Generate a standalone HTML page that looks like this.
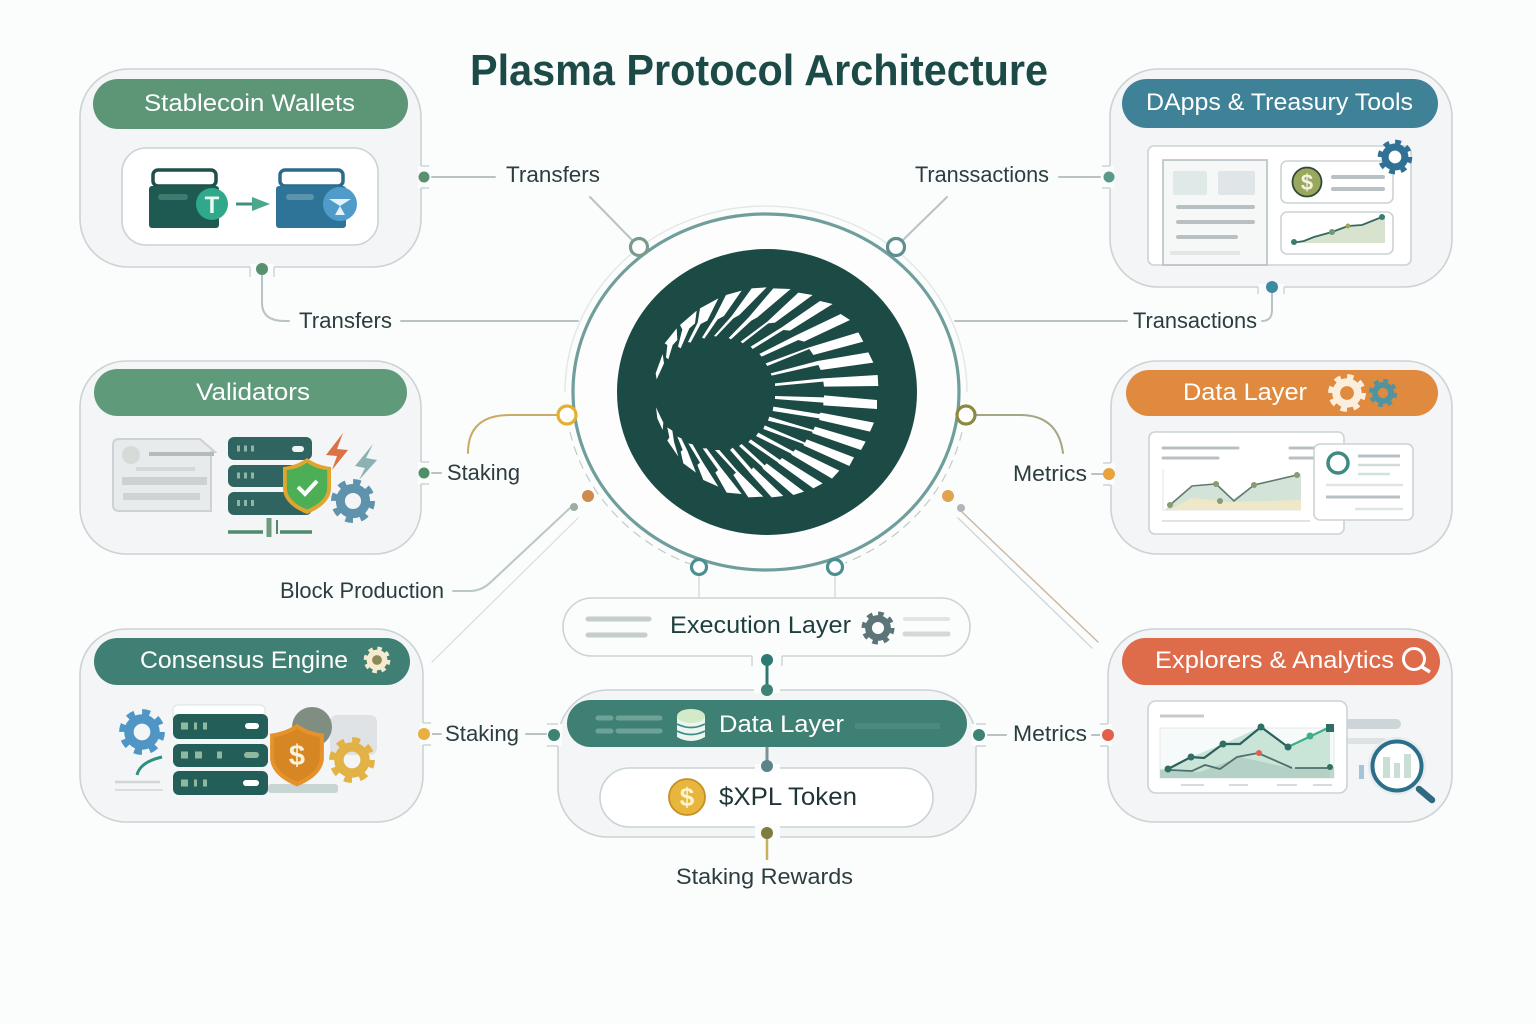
<!DOCTYPE html>
<html><head><meta charset="utf-8"><style>
html,body{margin:0;padding:0;background:#fbfcfc}
svg{display:block}
text{font-family:"Liberation Sans",sans-serif}
.l{font-size:22px;fill:#2c3d40}
.h{font-size:24px;fill:#fff}
.c{fill:#f3f5f6;stroke:#ccd3d5;stroke-width:1.6}
.w{fill:#fff;stroke:#ccd3d5;stroke-width:1.6}
.g{fill:none;stroke:#b9c3c5;stroke-width:2;stroke-linecap:round}
.b{stroke:#b9c0c4;stroke-width:4;stroke-linecap:round;fill:none}
.n{fill:#fff;stroke-width:3.2}
.t{fill:none;stroke:#ccd3d5;stroke-width:1.4}
</style></head><body>
<svg width="1536" height="1024" viewBox="0 0 1536 1024" xmlns="http://www.w3.org/2000/svg">
<defs>
<g id="gear"><circle r="9" fill="none" stroke="currentColor" stroke-width="6.5"/><circle r="13.5" fill="none" stroke="currentColor" stroke-width="4.5" stroke-dasharray="5.3 5.3"/></g>
<path id="shield" d="M0-28C8-22 16-20 24-19V2C24 16 10 24 0 28C-10 24-24 16-24 2V-19C-16-20-8-22 0-28Z"/>
</defs>
<rect width="1536" height="1024" fill="#fbfcfc"/>

<text x="470" y="85" font-size="44" font-weight="bold" fill="#1b4a47" textLength="578" lengthAdjust="spacingAndGlyphs">Plasma Protocol Architecture</text>

<!-- connectors -->
<g class="g" fill="none">
<path d="M432 177H495"/><path d="M590 197L632 240"/><path d="M1059 177H1100"/><path d="M947 197L903 240"/>
<path d="M262 272V303Q262 321 285 321H289"/><path d="M401 321H578"/><path d="M955 321H1127"/>
<path d="M1262 321Q1272 321 1272 310V292"/>
<path d="M432 473H441"/><path d="M1092 474H1103"/>
<path d="M468 453Q468 415 510 415H558" style="stroke:#c8ab66"/>
<path d="M1063 453Q1058 415 1020 415H975" style="stroke:#a5a58a"/>
<path d="M453 591H470Q482 591 492 581L570 508" style="stroke:#b9c7c8"/>
<path d="M432 662L578 518" style="stroke:#dcdcd0;stroke-width:1.2"/>
<path d="M962 512L1098 642" style="stroke:#c9b6a3;stroke-width:1.4"/>
<path d="M958 518L1092 648" style="stroke:#d2d7d8;stroke-width:1.4"/>
<path d="M699 576V598M835 576V598" style="stroke:#d4dadb;stroke-width:1.4"/>
<path d="M432 734H441"/><path d="M526 734H546"/><path d="M988 735H1006"/><path d="M1092 735H1100"/>
</g>

<!-- main circle -->
<path d="M565 392A201 186 0 0 1 967 392" fill="none" stroke="#e3e7e7" stroke-width="1.4"/>
<path d="M570 432A201 186 0 0 0 690 564" fill="none" stroke="#c3caca" stroke-width="1.2" stroke-dasharray="9 6"/>
<path d="M962 432A201 186 0 0 1 845 563" fill="none" stroke="#c3caca" stroke-width="1.2" stroke-dasharray="9 6"/>
<ellipse cx="766" cy="392" rx="193" ry="178" fill="#fdfdfd" stroke="#6f9e9c" stroke-width="3.2"/>
<ellipse cx="767" cy="392" rx="150" ry="143" fill="#1c4a45"/>
<!-- traced rays -->
<g transform="translate(650 280) scale(.33333)" fill="#fff">
<path d="M38 222L42 250L20 298L17 280Z"/>
<path d="M80 145L82 180L68 195L55 238L48 232L52 195L44 190Z"/>
<path d="M140 92L135 130L118 145L92 205L84 200L97 148L90 135Z"/>
<path d="M205 55L172 122L152 132L122 188L114 186L143 128L150 85Z"/>
<path d="M275 32L222 108L203 118L163 176L156 173L194 112L228 45Z"/>
<path d="M350 22L268 105L250 115L198 170L192 168L245 108L305 25Z"/>
<path d="M422 27L322 112L304 122L243 178L236 174L296 112L370 25Z"/>
<path d="M488 45L375 128L355 130L278 190L272 185L352 125L445 38Z"/>
<path d="M548 72L420 152L400 150L308 207L302 200L395 142L510 63Z"/>
<path d="M600 120L462 185L445 180L335 230L328 222L440 165L572 102Z"/>
<path d="M640 185L490 225L478 207L352 258L347 250L475 203L625 157Z"/>
<path d="M655 217L670 248L512 270L505 255L365 287L362 280L503 243Z"/>
<path d="M683 285L685 318L522 320L520 305L375 318L375 310L518 295Z"/>
</g>
<g transform="translate(730 400) scale(.33333)" fill="#fff">
<path d="M135-12L282-8L282-14L441 0L441 27L280 16L280 8L135-3Z"/>
<path d="M130 20L268 42L272 38L432 68L420 95L268 60L268 55L128 33Z"/>
<path d="M118 50L250 90L255 80L407 125L393 150L248 100L246 95L114 62Z"/>
<path d="M104 76L225 128L230 118L372 172L358 198L222 137L220 132L100 87Z"/>
<path d="M85 98L190 155L196 148L328 212L306 236L186 165L182 160L78 108Z"/>
<path d="M62 118L150 180L156 174L278 250L250 265L146 190L142 186L55 126Z"/>
<path d="M35 132L104 196L110 190L222 275L190 285L100 207L96 200L27 138Z"/>
<path d="M8 143L65 208L70 202L160 288L125 292L58 217L54 212L0 150Z"/>
</g>
<g transform="translate(650 400) scale(.33333)" fill="#fff">
<path d="M18 22L40 68L38 90L22 55Z"/>
<path d="M52 82L67 92L72 125L85 170L52 122L58 112Z"/>
<path d="M82 110L94 115L112 152L138 218L100 190L92 155L98 150Z"/>
<path d="M115 130L128 133L158 186L205 260L160 240L142 195L150 188Z"/>
<path d="M158 145L170 145L212 202L275 282L230 278L196 218L204 210Z"/>
<path d="M195 150L208 150L260 210L340 290L295 292L250 225L258 218Z"/>
</g>
<ellipse cx="715" cy="393" rx="58" ry="55" fill="#1c4a45"/>
<circle class="n" cx="639" cy="247" r="8.5" stroke="#7a9b8b"/>
<circle class="n" cx="896" cy="247" r="8.5" stroke="#5f8f90"/>
<circle class="n" cx="567" cy="415" r="9" stroke="#e3b02f"/>
<circle class="n" cx="966" cy="415" r="9" stroke="#8c8a40"/>
<circle class="n" cx="699" cy="567" r="7.500" stroke="#4c8f90"/>
<circle class="n" cx="835" cy="567" r="7.500" stroke="#4c8f90"/>
<circle cx="588" cy="496" r="6" fill="#cf8a4d"/><circle cx="574" cy="507" r="4" fill="#9fac9f"/>
<circle cx="948" cy="496" r="6" fill="#e0a350"/><circle cx="961" cy="508" r="4" fill="#aeb6ba"/>

<!-- Stablecoin Wallets -->
<rect class="c" x="80" y="69" width="341" height="198" rx="48"/>
<rect x="93" y="79" width="315" height="50" rx="25" fill="#5c9676"/>
<text class="h" x="144" y="111" textLength="211" lengthAdjust="spacingAndGlyphs">Stablecoin Wallets</text>
<rect class="w" x="122" y="148" width="256" height="97" rx="24"/>
<rect x="153" y="170" width="63" height="16" rx="5" fill="#fff" stroke="#1f4f49" stroke-width="3.5"/>
<rect x="149" y="186" width="70" height="42" rx="3" fill="#1f5a52"/>
<rect x="158" y="194" width="30" height="6" rx="3" fill="#3f7a6e"/>
<circle cx="212" cy="204" r="16" fill="#2fa98a"/>
<text x="212" y="213" font-size="24" font-weight="bold" fill="#e8f8f2" text-anchor="middle">T</text>
<path d="M236 204H254" stroke="#3f8f80" stroke-width="3"/><path d="M252 197L270 204L252 211Z" fill="#4aa98c"/>
<rect x="280" y="170" width="63" height="16" rx="5" fill="#fff" stroke="#2c6a8c" stroke-width="3.500"/>
<rect x="276" y="186" width="70" height="42" rx="3" fill="#2e7499"/>
<rect x="286" y="194" width="28" height="6" rx="3" fill="#5a94ad"/>
<circle cx="340" cy="204" r="17" fill="#4f9ccb"/>
<path d="M329 199H351L340 206ZM340 206L345 215H335Z" fill="#e6f2f8"/>

<!-- DApps -->
<rect class="c" x="1110" y="69" width="342" height="218" rx="48"/>
<rect x="1122" y="79" width="316" height="49" rx="24.500" fill="#3f8196"/>
<text class="h" x="1146" y="110" textLength="267" lengthAdjust="spacingAndGlyphs">DApps &amp; Treasury Tools</text>
<rect class="w" x="1148" y="146" width="263" height="119" rx="6"/>
<rect x="1163" y="160" width="104" height="105" fill="#f6f8f8" stroke="#b8c0c3" stroke-width="1.6"/>
<rect x="1173" y="171" width="34" height="24" rx="2" fill="#dfe9e8"/><rect x="1218" y="171" width="37" height="24" rx="2" fill="#e0e6e7"/>
<path class="b" d="M1178 207H1253M1178 222H1253M1178 237H1236"/>
<path d="M1170 253H1240" stroke="#e3e6e7" stroke-width="4"/>
<rect class="w" x="1281" y="161" width="112" height="42" rx="6"/>
<circle cx="1307" cy="182" r="14.500" fill="#9aa85e" stroke="#2f4a3a" stroke-width="1.8"/>
<text x="1307" y="190" font-size="22" font-weight="bold" fill="#f3f4e4" text-anchor="middle">$</text>
<path class="b" d="M1333 177H1383M1333 189H1383"/>
<rect class="w" x="1281" y="212" width="112" height="42" rx="6"/>
<path d="M1292 243L1304 241L1314 237L1332 232L1348 226L1362 225L1385 217V243Z" fill="#d8e3cf"/>
<path d="M1292 243L1304 241L1314 237L1332 232L1348 226L1362 225L1382 217" fill="none" stroke="#33695f" stroke-width="1.8"/>
<circle cx="1294" cy="242" r="3" fill="#33806f"/><circle cx="1332" cy="232" r="3" fill="#6f9a7a"/><circle cx="1348" cy="226" r="2.500" fill="#9aa85e"/><circle cx="1382" cy="217" r="3" fill="#33806f"/>
<use href="#gear" transform="translate(1395 157) scale(1.1)" style="color:#2f7296"/>

<!-- Validators -->
<rect class="c" x="80" y="361" width="341" height="193" rx="46"/>
<rect x="94" y="369" width="313" height="47" rx="23.500" fill="#5f9a7a"/>
<text class="h" x="196" y="400" textLength="114" lengthAdjust="spacingAndGlyphs">Validators</text>
<path d="M119 439H200L215 452V452H211V511H119Q113 511 113 505V445Q113 439 119 439Z" fill="#e8ebec" stroke="#cdd2d5" stroke-width="2"/>
<circle cx="131" cy="455" r="9" fill="#d6dbd8"/>
<path d="M149 454H214" stroke="#b5babf" stroke-width="4"/><path d="M136 469H195" stroke="#d5d8da" stroke-width="4"/>
<rect x="122" y="477" width="85" height="8" fill="#cdd1d4"/><rect x="123" y="493" width="77" height="7" fill="#d0d3d6"/>
<rect x="228" y="437" width="84" height="23" rx="6" fill="#2f6460"/><rect x="228" y="465" width="84" height="22" rx="6" fill="#2f6460"/><rect x="228" y="492" width="84" height="23" rx="6" fill="#2f6460"/>
<path d="M237 448.500h3M244 448.500h3M251 448.500h3M237 475.500h3M244 475.500h3M251 475.500h3M237 503h3M244 503h3M251 503h3" stroke="#8fb5a5" stroke-width="6"/>
<rect x="292" y="446" width="12" height="6" rx="3" fill="#f0f4f3"/>
<use href="#shield" transform="translate(307 486)" fill="#e0a52e"/>
<use href="#shield" transform="translate(307 486) scale(.84)" fill="#4cae55"/>
<path d="M298 487L305 494L317 481" fill="none" stroke="#fff" stroke-width="4"/>
<path d="M343 433L326 455L337 456L332 470L348 450L337 449Z" fill="#dc7243"/>
<path d="M373 444L355 466L365 468L359 480L377 460L366 458Z" fill="#8db0b3"/>
<use href="#gear" transform="translate(353 501) scale(1.4)" style="color:#5f93ad"/>
<path d="M228 532H263M280 532H312" stroke="#4f8a6a" stroke-width="3.500"/>
<path d="M269 518V537" stroke="#6f9a80" stroke-width="5"/><path d="M277 520V534" stroke="#4f8a6a" stroke-width="2"/>

<!-- Data Layer right -->
<rect class="c" x="1111" y="361" width="341" height="193" rx="46"/>
<rect x="1126" y="370" width="312" height="46" rx="23" fill="#e08a3f"/>
<text class="h" x="1183" y="400" textLength="124" lengthAdjust="spacingAndGlyphs">Data Layer</text>
<use href="#gear" transform="translate(1347 393) scale(1.2)" style="color:#fbeedd"/>
<use href="#gear" transform="translate(1383 393) scale(.9)" style="color:#4f94a0"/>
<rect class="w" x="1149" y="432" width="195" height="102" rx="6"/>
<path class="b" d="M1163 448H1238M1163 458H1218M1290 448H1320M1290 458H1320" style="stroke-width:3"/>
<path d="M1163 469V510H1301" fill="none" stroke="#e0e4e4" stroke-width="1"/>
<path d="M1170 505L1192 487L1216 485L1232 500L1254 485L1301 474V510H1165Z" fill="#d4e3d8"/>
<path d="M1168 510L1192 498L1230 502L1301 500V510Z" fill="#efe8c8"/>
<path d="M1170 505L1192 486L1216 484L1234 501L1254 485L1297 475" fill="none" stroke="#5f7a6c" stroke-width="1.6"/>
<circle cx="1170" cy="505" r="3" fill="#8a9a72"/><circle cx="1216" cy="484" r="3" fill="#8a9a72"/><circle cx="1220" cy="501" r="3" fill="#8a9a72"/><circle cx="1254" cy="485" r="3" fill="#8a9a72"/><circle cx="1297" cy="475" r="3" fill="#8a9a72"/>
<path d="M1162 521H1310" stroke="#d5dadb" stroke-width="1.5"/>
<rect class="w" x="1314" y="444" width="99" height="76" rx="6"/>
<circle cx="1338" cy="463" r="10" fill="none" stroke="#3f8a80" stroke-width="3.500"/>
<path d="M1358 456H1400" stroke="#b9c0c4" stroke-width="3"/><path d="M1358 465H1400" stroke="#d3dbdb" stroke-width="2.500"/><path d="M1358 474H1390" stroke="#cfe3db" stroke-width="2.500"/>
<path d="M1326 485H1403" stroke="#dfe3e4" stroke-width="2.500"/><path d="M1326 497H1400" stroke="#b9c0c4" stroke-width="3"/><path d="M1355 509H1403" stroke="#dfe3e4" stroke-width="2.500"/>

<!-- Consensus -->
<rect class="c" x="80" y="629" width="343" height="193" rx="46"/>
<rect x="94" y="638" width="316" height="47" rx="23.500" fill="#3f7f74"/>
<text class="h" x="140" y="668" textLength="208" lengthAdjust="spacingAndGlyphs">Consensus Engine</text>
<circle cx="377" cy="660" r="7" fill="#8c8a5a"/><use href="#gear" transform="translate(377 660) scale(.85)" style="color:#f5eccf"/>
<use href="#gear" transform="translate(142 732) scale(1.45)" style="color:#4f96c4"/>
<path d="M137 775Q140 762 162 757" fill="none" stroke="#2f9080" stroke-width="3"/>
<path d="M115 782H160" stroke="#d0d5d6" stroke-width="2.500"/><path d="M115 790H163" stroke="#d0d5d6" stroke-width="1.500"/>
<rect x="173" y="705" width="92" height="20" rx="5" fill="#fff" stroke="#dde1e2"/>
<rect x="173" y="714" width="95" height="25" rx="6" fill="#245e58"/><rect x="173" y="744" width="95" height="23" rx="6" fill="#245e58"/><rect x="173" y="771" width="95" height="24" rx="6" fill="#245e58"/>
<path d="M181 726h7M194 726h3M203 726h4M181 755h7M195 755h7M217 755h5M181 783h7M194 783h3M203 783h4" stroke="#8fb89f" stroke-width="7"/>
<rect x="245" y="723" width="14" height="6" rx="3" fill="#fff"/><rect x="244" y="752" width="15" height="6" rx="3" fill="#8fb89f"/><rect x="243" y="780" width="16" height="6" rx="3" fill="#fff"/>
<rect x="330" y="715" width="47" height="40" rx="7" fill="#dfe3e5"/>
<circle cx="312" cy="727" r="20" fill="#7f8e80"/>
<rect x="268" y="784" width="70" height="9" rx="3" fill="#c9d4d4"/>
<use href="#shield" transform="translate(297 755) scale(1.12)" fill="#e5922a"/>
<use href="#shield" transform="translate(297 755) scale(.95)" fill="#cd7e22" opacity=".6"/>
<text x="297" y="765" font-size="29" font-weight="bold" fill="#fdf2d8" text-anchor="middle">$</text>
<use href="#gear" transform="translate(352 760) scale(1.45)" style="color:#e3b247"/>

<!-- Explorers -->
<rect class="c" x="1108" y="629" width="344" height="193" rx="46"/>
<rect x="1122" y="638" width="318" height="47" rx="23.500" fill="#de6b4a"/>
<text class="h" x="1155" y="668" textLength="239" lengthAdjust="spacingAndGlyphs">Explorers &amp; Analytics</text>
<circle cx="1414" cy="659" r="10.500" fill="none" stroke="#fff" stroke-width="3"/><path d="M1422 667L1430 672" stroke="#fff" stroke-width="3.500"/>
<rect x="1345" y="719" width="56" height="10" rx="5" fill="#cdd5d9"/><rect x="1345" y="738" width="40" height="6" fill="#dde2e5"/>
<rect class="w" x="1148" y="701" width="199" height="92" rx="8"/>
<path d="M1160 716H1204" stroke="#c4c9cc" stroke-width="3"/>
<path d="M1160 728H1334V778H1160Z" fill="#f7fafa" stroke="#e3e7e8"/>
<path d="M1168 769L1191 757L1223 744L1261 727L1288 747L1330 727V778H1160V769Z" fill="#c8e5d8"/>
<path d="M1160 770L1200 772L1240 757L1290 768L1334 767V778H1160Z" fill="#a9c9bd" opacity=".7"/>
<path d="M1168 769L1191 757L1204 758L1223 744L1240 744L1261 727L1288 747" fill="none" stroke="#2f5f5a" stroke-width="2.200"/>
<path d="M1288 747L1330 727" fill="none" stroke="#3fae86" stroke-width="2.200"/>
<path d="M1170 770L1192 771L1205 765L1220 769L1237 757L1258 753L1292 768M1295 768H1332" fill="none" stroke="#4f6f70" stroke-width="1.800"/>
<circle cx="1168" cy="769" r="3.500" fill="#2f6f65"/><circle cx="1191" cy="757" r="3.500" fill="#2f6f65"/><circle cx="1223" cy="744" r="3.500" fill="#2f6f65"/><circle cx="1261" cy="727" r="3.500" fill="#2f6f65"/><circle cx="1288" cy="747" r="3.500" fill="#2f6f65"/><circle cx="1310" cy="736" r="3.500" fill="#3fae86"/><rect x="1326" y="724" width="8" height="8" fill="#2f6f65"/><circle cx="1330" cy="767" r="3" fill="#2f6f65"/><circle cx="1259" cy="753" r="3" fill="#e0604a"/>
<path d="M1181 785H1204M1229 785H1248M1277 785H1297M1313 785H1332" stroke="#c9cfd0" stroke-width="1.500"/>
<rect x="1359" y="765" width="5" height="14" fill="#a4c4d6"/>
<circle cx="1397" cy="766" r="29" fill="#e6ebed"/>
<circle cx="1397" cy="766" r="24.500" fill="#fff" stroke="#2b6f8a" stroke-width="4"/>
<path d="M1419 789L1432 800" stroke="#2f6a80" stroke-width="6.500" stroke-linecap="round"/>
<path d="M1383 757h7v21h-7zM1394 763h6v15h-6zM1404 754h7v24h-7z" fill="#c9dfd5"/>

<!-- Execution -->
<rect x="563" y="598" width="407" height="58" rx="29" fill="#fbfcfc" stroke="#ccd3d5" stroke-width="1.600"/>
<path d="M588 619H649M588 635H645" stroke="#c5cdcd" stroke-width="5" stroke-linecap="round"/>
<text x="670" y="633" font-size="24" fill="#1f3f3f" textLength="181" lengthAdjust="spacingAndGlyphs">Execution Layer</text>
<use href="#gear" transform="translate(878 628) scale(1.05)" style="color:#5d7478"/>
<path d="M905 619H948" stroke="#e0e4e4" stroke-width="4" stroke-linecap="round"/><path d="M905 634H948" stroke="#d3d8d8" stroke-width="5" stroke-linecap="round"/>

<!-- Center stack -->
<rect class="c" x="558" y="690" width="418" height="147" rx="50"/>
<rect x="567" y="700" width="400" height="47" rx="23.500" fill="#3f8074"/>
<path d="M598 718H611M618 718H660M598 731H611M618 731H660" stroke="#6da397" stroke-width="5" stroke-linecap="round"/>
<path d="M855 726H940" stroke="#4b8b7e" stroke-width="6"/>
<text class="h" x="719" y="732" textLength="125" lengthAdjust="spacingAndGlyphs">Data Layer</text>
<path d="M677 716V737Q691 745 705 737V716Z" fill="#eaf6ee"/>
<ellipse cx="691" cy="716" rx="14" ry="7" fill="#d2eac8"/>
<path d="M677 724Q691 731 705 724M677 731Q691 738 705 731" fill="none" stroke="#3f8a88" stroke-width="1.800"/>
<rect class="w" x="600" y="768" width="333" height="59" rx="29.500"/>
<circle cx="687" cy="797" r="18" fill="#e8b63c" stroke="#c58f24" stroke-width="1.800"/>
<text x="687" y="806" font-size="26" font-weight="bold" fill="#fdf4d0" text-anchor="middle">$</text>
<text x="719" y="805" font-size="25" fill="#1f3538" textLength="138" lengthAdjust="spacingAndGlyphs">$XPL Token</text>

<!-- ports: notches, ticks and dots -->
<g fill="#fbfcfc">
<rect x="418" y="166" width="12" height="22"/><rect x="250" y="264" width="24" height="6"/>
<rect x="1102" y="166" width="12" height="22"/><rect x="1258" y="284" width="26" height="6"/>
<rect x="418" y="462" width="12" height="22"/><rect x="1103" y="463" width="12" height="22"/>
<rect x="420" y="723" width="12" height="22"/><rect x="1100" y="724" width="12" height="22"/>
<rect x="752" y="653" width="30" height="6"/><rect x="754" y="687" width="26" height="6"/>
<rect x="548" y="724" width="14" height="22"/><rect x="972" y="724" width="14" height="22"/>
<rect x="755" y="764" width="25" height="8"/><rect x="755" y="824" width="25" height="16"/>
</g>
<path class="t" d="M421 166H429M421 188H429M1110 166H1102M1110 188H1102M250 267V277M274 267V277M1258 287V294M1284 287V294M421 462H429M421 484H429M1111 463H1103M1111 485H1103M423 723H431M423 745H431M1108 724H1100M1108 746H1100M752 656V666M782 656V666M558 724H547M558 746H547M976 724H986M976 746H986"/>
<path d="M767 665V688" stroke="#2f7a70" stroke-width="3"/>
<path d="M767 747V762" stroke="#7d9295" stroke-width="3"/>
<path d="M767 838V860" stroke="#c9b060" stroke-width="2.500"/>
<circle cx="424" cy="177" r="5.500" fill="#5a9070"/>
<circle cx="262" cy="269" r="6" fill="#5a9070"/>
<circle cx="1109" cy="177" r="5.500" fill="#5a9a8a"/>
<circle cx="1272" cy="287" r="6" fill="#3e8aa0"/>
<circle cx="424" cy="473" r="5.500" fill="#4f8f68"/>
<circle cx="1109" cy="474" r="6" fill="#e8a33e"/>
<circle cx="424" cy="734" r="6" fill="#e8b03e"/>
<circle cx="1108" cy="735" r="6" fill="#e0604a"/>
<circle cx="554" cy="735" r="6" fill="#3d8274"/>
<circle cx="979" cy="735" r="6" fill="#3d8274"/>
<circle cx="767" cy="660" r="6" fill="#2f7a70"/>
<circle cx="767" cy="690" r="6" fill="#3d8274"/>
<circle cx="767" cy="766" r="6" fill="#5a8488"/>
<circle cx="767" cy="833" r="6" fill="#7d7d3d"/>

<!-- labels -->
<text class="l" x="506" y="182" textLength="94" lengthAdjust="spacingAndGlyphs">Transfers</text>
<text class="l" x="915" y="182" textLength="134" lengthAdjust="spacingAndGlyphs">Transsactions</text>
<text class="l" x="299" y="328" textLength="93" lengthAdjust="spacingAndGlyphs">Transfers</text>
<text class="l" x="1133" y="328" textLength="124" lengthAdjust="spacingAndGlyphs">Transactions</text>
<text class="l" x="447" y="480" textLength="73" lengthAdjust="spacingAndGlyphs">Staking</text>
<text class="l" x="1013" y="481" textLength="74" lengthAdjust="spacingAndGlyphs">Metrics</text>
<text class="l" x="280" y="598" textLength="164" lengthAdjust="spacingAndGlyphs">Block Production</text>
<text class="l" x="445" y="741" textLength="74" lengthAdjust="spacingAndGlyphs">Staking</text>
<text class="l" x="1013" y="741" textLength="74" lengthAdjust="spacingAndGlyphs">Metrics</text>
<text class="l" x="676" y="884" textLength="177" lengthAdjust="spacingAndGlyphs">Staking Rewards</text>
</svg>
</body></html>
